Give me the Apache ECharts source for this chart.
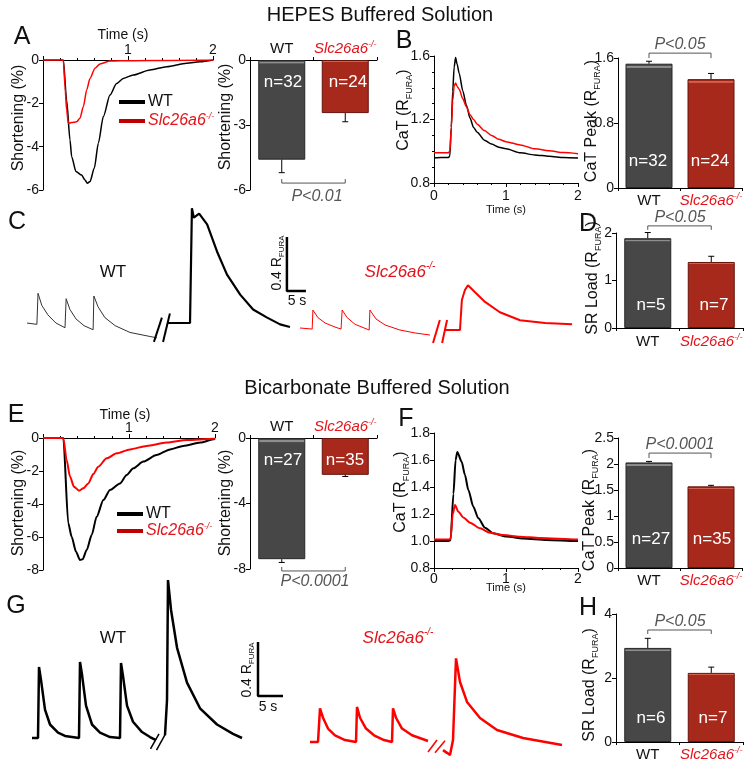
<!DOCTYPE html>
<html><head><meta charset="utf-8">
<script src="https://cdn.jsdelivr.net/npm/echarts/dist/echarts.min.js"></script>
<style>html,body{margin:0;padding:0;background:#fff}#c{width:754px;height:765px}</style>
</head><body><div id="c"></div>
<script>
// ---------------- DATA ----------------
const categories = ['WT', 'Slc26a6-/-'];

// Panel A: HEPES shortening traces (time s, shortening %)
const aWTTime  = [0,0.239,0.278,0.318,0.337,0.388,0.455,0.494,0.522,0.553,0.604,0.651,0.71,0.788,0.866,0.945,1.063,1.259,1.455,1.69,1.847,2.0];
const aWTShort = [0,0,-1.85,-3.7,-4.46,-5.15,-5.31,-5.54,-5.69,-5.61,-4.98,-3.84,-2.61,-1.62,-1.08,-0.85,-0.69,-0.46,-0.31,-0.15,-0.08,0];
const aKOTime  = [0,0.239,0.259,0.278,0.298,0.337,0.396,0.435,0.475,0.514,0.553,0.612,0.671,0.788,1.063,1.455,2.0];
const aKOShort = [0,0,-1.23,-2.31,-2.92,-2.89,-2.85,-2.69,-2.15,-1.38,-0.85,-0.38,-0.18,-0.05,-0.03,-0.02,0];
const aBarMean = [-4.6, -2.45], aBarErr = [0.6, 0.4], aN = [32, 24];

// Panel B: HEPES Ca transients (R_FURA)
const bTime = [0,0.1,0.2,0.22,0.24,0.26,0.28,0.30,0.32,0.35,0.40,0.45,0.50,0.55,0.60,0.70,0.80,0.90,1.0,1.2,1.4,1.6,1.8,2.0];
const bWT   = [0.957,0.96,0.96,0.97,1.15,1.38,1.53,1.59,1.55,1.49,1.38,1.29,1.21,1.15,1.12,1.07,1.045,1.025,1.015,0.99,0.977,0.968,0.961,0.957];
const bKO   = [0.99,0.99,0.99,1.0,1.15,1.32,1.41,1.43,1.41,1.39,1.33,1.28,1.23,1.20,1.17,1.13,1.10,1.075,1.06,1.04,1.015,1.003,0.992,0.985];
const bBarMean = [1.53, 1.34], bBarErr = [0.03, 0.07], bN = [32, 24];

// Panel C: HEPES caffeine SR load traces (time s, R_FURA)
const cWTPreT  = [0,2.6,2.9,3.9,5.5,7.6,10.0,10.3,11.3,12.9,15.0,17.4,17.6,18.7,20.5,23.2,27.1,32.4,34.2];
const cWTPreR  = [1.0,0.99,1.22,1.13,1.06,1.0,0.965,1.18,1.10,1.03,0.98,0.95,1.2,1.12,1.04,0.98,0.93,0.90,0.89];
const cWTPostT = [37.1,42.9,43.4,43.9,45.3,47.4,50.0,52.6,56.1,59.5,63.2,66.6,69.2];
const cWTPostR = [1.0,1.0,1.85,1.78,1.81,1.73,1.53,1.36,1.21,1.10,1.04,0.99,0.97];
const cKOPreT  = [0,3.2,3.4,4.7,6.6,9.2,10.8,11.1,12.4,14.5,18.2,18.4,20,22.4,26.3,30.3,34.2];
const cKOPreR  = [0.963,0.955,1.096,1.04,1.0,0.97,0.955,1.096,1.04,0.99,0.948,1.096,1.03,0.985,0.948,0.926,0.911];
const cKOPostT = [38.2,42.1,42.6,43.4,44.2,46,48.7,52.6,57.9,64.5,71.6];
const cKOPostR = [0.948,0.948,1.17,1.244,1.28,1.23,1.156,1.08,1.02,1.0,0.99];
const cScaleOrigin = [68.4, 1.237];
const cWTBreaks = [[[33.4,0.86],[35.5,1.04]], [[35.8,0.86],[37.6,1.07]]];
const cKOBreaks = [[[35.0,0.852],[36.8,1.022]], [[37.4,0.852],[38.7,1.022]]];

// Panel D: HEPES SR load bars
const dBarMean = [1.89, 1.39], dBarErr = [0.12, 0.12], dN = [5, 7];

// Panel E: bicarbonate shortening traces
const eWTTime  = [0,0.236,0.294,0.333,0.384,0.43,0.461,0.508,0.566,0.624,0.702,0.779,0.895,0.973,1.05,1.167,1.32,1.478,1.63,1.83,1.98,2.0];
const eWTShort = [0,0,-5.17,-5.98,-6.89,-7.39,-7.35,-6.79,-5.88,-4.77,-3.76,-3.15,-2.75,-2.24,-1.84,-1.43,-1.03,-0.69,-0.48,-0.28,-0.08,-0.05];
const eKOTime  = [0,0.236,0.275,0.314,0.36,0.419,0.469,0.527,0.585,0.643,0.74,0.857,1.012,1.205,1.438,1.67,1.98,2.0];
const eKOShort = [0,0,-1.33,-2.34,-2.95,-3.19,-3.05,-2.75,-2.18,-1.74,-1.23,-0.93,-0.69,-0.48,-0.28,-0.12,-0.05,-0.04];
const eBarMean = [-7.4, -2.25], eBarErr = [0.2, 0.1], eN = [27, 35];

// Panel F: bicarbonate Ca transients
const fWTTime = [0,0.2,0.23,0.27,0.3,0.324,0.384,0.43,0.477,0.546,0.616,0.708,0.824,1.009,1.24,1.565,1.98,2.0];
const fWT     = [1.0,1.0,1.005,1.35,1.6,1.66,1.587,1.489,1.378,1.254,1.168,1.099,1.057,1.033,1.018,1.008,1.0,1.0];
const fKOTime = [0,0.2,0.23,0.26,0.292,0.338,0.407,0.5,0.639,0.778,0.963,1.194,1.472,1.98,2.0];
const fKO     = [1.012,1.012,1.015,1.2,1.267,1.217,1.175,1.136,1.094,1.061,1.044,1.032,1.022,1.012,1.012];
const fBarMean = [2.03, 1.57], fBarErr = [0.02, 0.02], fN = [27, 35];

// Panel G: bicarbonate caffeine traces
const gWTPreT  = [0,1.2,1.4,1.8,2.6,3.6,5.2,6.6,9.4,9.6,10,10.8,12,13.6,15.6,17.6,17.8,18.2,19,20.2,22,23.6,24.8];
const gWTPreR  = [1.0,1.0,1.526,1.43,1.21,1.1,1.04,1.015,1.0,1.563,1.47,1.24,1.10,1.04,1.007,1.0,1.556,1.46,1.24,1.12,1.044,1.007,0.985];
const gWTPostT = [26.6,27.0,27.2,27.8,29,31,33.6,37,40.2,42];
const gWTPostR = [1.02,1.28,2.17,1.95,1.67,1.41,1.22,1.10,1.03,1.0];
const gKOPreT  = [0,1.6,2,2.6,3.6,5,7,9.2,9.4,10,11.2,12.8,14.8,16.4,16.6,17.2,18.4,20.4,23.6];
const gKOPreR  = [0.97,0.97,1.22,1.15,1.07,1.02,0.985,0.97,1.23,1.15,1.07,1.02,0.985,0.97,1.22,1.15,1.07,1.02,0.978];
const gKOPostT = [26.6,27.4,28,28.6,29.2,30,31.4,34,37.4,42.6,50.4];
const gKOPostR = [0.91,0.89,0.874,0.985,1.59,1.415,1.267,1.148,1.059,1.0,0.948];
const gScaleOrigin = [45.2, 1.311];
const gWTBreaks = [[[23.7,0.92],[25.4,1.03]], [[24.9,0.91],[26.7,1.03]]];
const gKOBreaks = [[[23.6,0.896],[25.4,0.985]], [[25.0,0.89],[27.0,0.98]]];

// Panel H: bicarbonate SR load bars
const hBarMean = [2.94, 2.16], hBarErr = [0.3, 0.18], hN = [6, 7];

// scale bar sizes (data units)
const SCALE_R = 0.4, SCALE_T = 5;
// significance
const pLabels = ['P<0.01','P<0.05','P<0.05','P<0.0001','P<0.0001','P<0.05'];
const bracketLevels = [-5.68, 1.66, 2.15, -8.12, 2.21, 3.5];

// ---------------- RENDER ----------------
const FONT = '"Liberation Sans", Arial, Helvetica, sans-serif';
const LRED = '#e3141b';
const TRED = '#ff0000';
const zip = (a, b) => a.map((v, i) => [v, b[i]]);

const grids = [
  {left:43, top:60, width:170, height:130},   //0 A
  {left:250, top:60, width:127, height:130},  //1 A bar
  {left:434, top:56, width:144, height:127},  //2 B
  {left:618, top:58, width:124, height:130},  //3 B bar
  {left:27, top:188, width:304, height:162},  //4 C WT
  {left:300, top:188, width:304, height:162}, //5 C KO
  {left:616, top:233, width:127, height:95},  //6 D
  {left:43, top:438, width:172, height:132},  //7 E
  {left:250, top:438, width:127, height:131}, //8 E bar
  {left:434, top:433, width:144, height:135}, //9 F
  {left:618, top:438, width:124, height:130}, //10 F bar
  {left:32, top:549, width:300, height:216},  //11 G WT
  {left:310, top:549, width:300, height:216}, //12 G KO
  {left:616, top:614, width:127, height:128}  //13 H
];

const lineAx = {show:true, onZero:false, lineStyle:{color:'#000', width:1}};
const tickAx = {show:true, length:4, lineStyle:{color:'#000', width:1}};
function lab(extra){ return Object.assign({fontSize:14, color:'#111', fontFamily:FONT, margin:4}, extra||{}); }
function vAxis(gi, min, max, interval, extra){
  return Object.assign({gridIndex:gi, type:'value', min, max, interval, axisLine:lineAx, axisTick:tickAx,
    axisLabel:lab(), splitLine:{show:false}}, extra||{});
}
function hidden(gi, min, max){ return {gridIndex:gi, type:'value', min, max, show:false, splitLine:{show:false}}; }
const catRich = {
  w:{fontSize:15, color:'#111', fontFamily:FONT, lineHeight:18},
  k:{fontSize:15, color:LRED, fontStyle:'italic', fontFamily:FONT, lineHeight:18},
  s:{fontSize:9, color:LRED, fontStyle:'italic', fontFamily:FONT, lineHeight:9, verticalAlign:'top'}
};
const catFmt = v => v === 'WT' ? '{w|WT}' : '{k|Slc26a6}{s|-/-}';
function cAxis(gi, pos, margin){
  return {gridIndex:gi, type:'category', data:categories, position:pos, axisLine:lineAx,
    axisTick:{show:true, length:3, alignWithLabel:false, lineStyle:{color:'#000'}},
    axisLabel:{formatter:catFmt, rich:catRich, margin:margin, interval:0}, splitLine:{show:false}};
}

const xAxes = [
  vAxis(0, 0, 2, 1, {position:'top', axisLabel:lab({margin:3, formatter:v=> v===0?'':v}), minorTick:{show:true, splitNumber:5, length:2}}),
  cAxis(1, 'top', 2),
  vAxis(2, 0, 2, 1, {position:'bottom', axisLabel:lab({margin:6}), minorTick:{show:true, splitNumber:5, length:2}}),
  cAxis(3, 'bottom', 4),
  hidden(4, 0, 80), hidden(5, 0, 80),
  cAxis(6, 'bottom', 5),
  vAxis(7, 0, 2, 1, {position:'top', axisLabel:lab({margin:3, formatter:v=> v===0?'':v}), minorTick:{show:true, splitNumber:5, length:2}}),
  cAxis(8, 'top', 2),
  vAxis(9, 0, 2, 1, {position:'bottom', axisLabel:lab({margin:4}), minorTick:{show:true, splitNumber:4, length:2}}),
  cAxis(10, 'bottom', 4),
  hidden(11, 0, 60), hidden(12, 0, 60),
  cAxis(13, 'bottom', 4)
];
const yAxes = [
  vAxis(0, -6, 0, 2),
  vAxis(1, -6, 0, 3),
  vAxis(2, 0.8, 1.6, 0.4, {minorTick:{show:true, splitNumber:4, length:2}}),
  vAxis(3, 0, 1.6, 0.8),
  hidden(4, 0.8, 2.0), hidden(5, 0.8, 2.0),
  vAxis(6, 0, 2, 1),
  vAxis(7, -8, 0, 2),
  vAxis(8, -8, 0, 4),
  vAxis(9, 0.8, 1.8, 0.2, {axisLabel:lab({formatter:v=>v.toFixed(1)})}),
  vAxis(10, 0, 2.5, 0.5),
  hidden(11, 0.8, 2.4), hidden(12, 0.8, 2.4),
  vAxis(13, 0, 4, 2)
];

function trace(gi, name, data, color, width, smooth){
  return {type:'line', name:name, xAxisIndex:gi, yAxisIndex:gi, data:data, symbol:'none', showSymbol:false,
    smooth: smooth ? 0.25 : false, smoothMonotone: smooth ? 'x' : undefined,
    lineStyle:{color:color, width:width}, itemStyle:{color:color}, silent:true, z:3};
}
function seg(gi, pts, color, width){
  return {type:'line', xAxisIndex:gi, yAxisIndex:gi, data:pts, symbol:'none', showSymbol:false,
    lineStyle:{color:color, width:width}, silent:true, z:4};
}
function grad(dark, light){
  return new echarts.graphic.LinearGradient(0,0,0,1,[
    {offset:0,color:dark},{offset:0.014,color:dark},{offset:0.02,color:light},
    {offset:0.03,color:light},{offset:0.038,color:dark},{offset:1,color:dark}]);
}
const barStyles = [
  {color:grad('#474747','#8e8e8e'), borderColor:'#262626', borderWidth:1},
  {color:grad('#a6291c','#d2604f'), borderColor:'#66130c', borderWidth:1}
];
function bars(gi, means){
  return {type:'bar', xAxisIndex:gi, yAxisIndex:gi, barWidth:47, silent:true, z:2,
    data: means.map((v,i)=>({value:v, itemStyle:barStyles[i]}))};
}
function errRender(params, api){
  const c = api.value(0), v = api.value(1), e = api.value(2);
  const end = v < 0 ? v - e : v + e;
  const p1 = api.coord([c, v]), p2 = api.coord([c, end]);
  return {type:'group', children:[
    {type:'line', shape:{x1:p1[0],y1:p1[1],x2:p2[0],y2:p2[1]}, style:{stroke:'#000', lineWidth:1}},
    {type:'line', shape:{x1:p2[0]-3,y1:p2[1],x2:p2[0]+3,y2:p2[1]}, style:{stroke:'#000', lineWidth:1}}
  ]};
}
function errs(gi, means, errsArr){
  return {type:'custom', xAxisIndex:gi, yAxisIndex:gi, renderItem:errRender, silent:true, z:5,
    data: means.map((v,i)=>[i, v, errsArr[i]])};
}
function bracketRender(params, api){
  const y = api.value(2), tick = api.value(3);
  const a = api.coord([api.value(0), y]), b = api.coord([1, y]);
  return {type:'polyline', shape:{points:[[a[0],a[1]+tick],[a[0],a[1]],[b[0],b[1]],[b[0],b[1]+tick]]},
    style:{stroke:'#555', lineWidth:1, fill:null}};
}
function bracket(gi, level, tick){
  return {type:'custom', xAxisIndex:gi, yAxisIndex:gi, renderItem:bracketRender, silent:true, z:5,
    data:[[0, 1, level, tick]]};
}
function scaleBar(gi, o){
  return seg(gi, [[o[0], o[1]+SCALE_R],[o[0], o[1]],[o[0]+SCALE_T, o[1]]], '#000', 2.5);
}

const series = [
  trace(0, 'WT', zip(aWTTime, aWTShort), '#000', 1.5, true),
  trace(0, 'Slc26a6-/-', zip(aKOTime, aKOShort), TRED, 1.5, true),
  bars(1, aBarMean), errs(1, aBarMean, aBarErr), bracket(1, bracketLevels[0], -4),
  trace(2, 'WT', zip(bTime, bWT), '#000', 1.5, true),
  trace(2, 'Slc26a6-/-', zip(bTime, bKO), TRED, 1.5, true),
  bars(3, bBarMean), errs(3, bBarMean, bBarErr), bracket(3, bracketLevels[1], 5),
  trace(4, 'WT', zip(cWTPreT, cWTPreR), '#333', 1, false),
  trace(4, 'WT', zip(cWTPostT, cWTPostR), '#000', 2.2, false),
  trace(5, 'Slc26a6-/-', zip(cKOPreT, cKOPreR), TRED, 1, false),
  trace(5, 'Slc26a6-/-', zip(cKOPostT, cKOPostR), TRED, 2, false),
  ...cWTBreaks.map(s => seg(4, s, '#000', 2)),
  ...cKOBreaks.map(s => seg(5, s, TRED, 2)),
  scaleBar(4, cScaleOrigin),
  bars(6, dBarMean), errs(6, dBarMean, dBarErr), bracket(6, bracketLevels[2], 4),
  trace(7, 'WT', zip(eWTTime, eWTShort), '#000', 2, true),
  trace(7, 'Slc26a6-/-', zip(eKOTime, eKOShort), TRED, 2, true),
  bars(8, eBarMean), errs(8, eBarMean, eBarErr), bracket(8, bracketLevels[3], -4),
  trace(9, 'WT', zip(fWTTime, fWT), '#000', 2, true),
  trace(9, 'Slc26a6-/-', zip(fKOTime, fKO), TRED, 2, true),
  bars(10, fBarMean), errs(10, fBarMean, fBarErr), bracket(10, bracketLevels[4], 5),
  trace(11, 'WT', zip(gWTPreT, gWTPreR), '#000', 2.5, false),
  trace(11, 'WT', zip(gWTPostT, gWTPostR), '#000', 2.5, false),
  trace(12, 'Slc26a6-/-', zip(gKOPreT, gKOPreR), TRED, 2.5, false),
  trace(12, 'Slc26a6-/-', zip(gKOPostT, gKOPostR), TRED, 2.5, false),
  ...gWTBreaks.map(s => seg(11, s, '#000', 1.5)),
  ...gKOBreaks.map(s => seg(12, s, TRED, 1.5)),
  scaleBar(11, gScaleOrigin),
  bars(13, hBarMean), errs(13, hBarMean, hBarErr), bracket(13, bracketLevels[5], 4)
];

// ---- text (graphic) ----
function T(x, y, text, size, o){
  o = o || {};
  return {type:'text', x:x, y:y, rotation:o.rot||0, z:100, silent:true,
    style:{text:text, fontSize:size, fontFamily:FONT, fill:o.color||'#111', fontStyle:o.italic?'italic':'normal',
      align:'center', verticalAlign:'middle', rich:o.rich}};
}
function richSub(size, subSize){
  return {n:{fontSize:size, lineHeight:size+4, fill:'#111', fontFamily:FONT},
          b:{fontSize:subSize, lineHeight:subSize, verticalAlign:'bottom', fill:'#111', fontFamily:FONT}};
}
function richKO(size, supSize){
  return {k:{fontSize:size, lineHeight:size+4, fill:LRED, fontStyle:'italic', fontFamily:FONT},
          s:{fontSize:supSize, lineHeight:supSize, verticalAlign:'top', fill:LRED, fontStyle:'italic', fontFamily:FONT}};
}
const R90 = Math.PI/2;
const RF = '{n|CaT (R}{b|FURA}{n|)}';
const RP = '{n|CaT Peak (R}{b|FURA}{n|)}';
const RS = '{n|SR Load (R}{b|FURA}{n|)}';
const RSc = '{n|0.4 R}{b|FURA}';
const KO = '{k|Slc26a6}{s|-/-}';
const barN = [[aN,[283,348],82],[bN,[648,710],161],[dN,[651,714],305],[eN,[283,345],460],[fN,[651,712],539],[hN,[651,713],718]];
const pPos = [[317,197],[680,45],[680,218],[315,582],[680,445],[680,622]];

const graphics = [
  T(380, 15, 'HEPES Buffered Solution', 20),
  T(377, 388, 'Bicarbonate Buffered Solution', 20),
  T(22, 37, 'A', 25), T(404, 41, 'B', 25), T(17, 222, 'C', 25), T(588, 224, 'D', 25),
  T(16, 415, 'E', 25), T(406, 419, 'F', 25), T(16, 606, 'G', 25), T(588, 608, 'H', 25),
  T(123, 35, 'Time (s)', 14), T(125, 415, 'Time (s)', 14),
  T(506, 210, 'Time (s)', 11), T(506, 588, 'Time (s)', 11),
  T(19, 118, 'Shortening (%)', 16, {rot:R90}),
  T(226, 117, 'Shortening (%)', 16, {rot:R90}),
  T(19, 503, 'Shortening (%)', 16, {rot:R90}),
  T(226, 503, 'Shortening (%)', 16, {rot:R90}),
  T(404, 110, RF, 16, {rot:R90, rich:richSub(16, 9)}),
  T(401, 492, RF, 16, {rot:R90, rich:richSub(16, 9)}),
  T(592, 121, RP, 16, {rot:R90, rich:richSub(16, 9)}),
  T(590, 510, RP, 16, {rot:R90, rich:richSub(16, 9)}),
  T(593, 278, RS, 16, {rot:R90, rich:richSub(16, 9)}),
  T(590, 685, RS, 16, {rot:R90, rich:richSub(16, 9)}),
  T(277, 263, RSc, 14, {rot:R90, rich:richSub(14, 8)}),
  T(297, 301, '5 s', 14),
  T(247, 670, RSc, 14, {rot:R90, rich:richSub(14, 8)}),
  T(268, 707, '5 s', 14),
  T(113, 272, 'WT', 17), T(400, 272, KO, 17, {rich:richKO(17, 10)}),
  T(113, 638, 'WT', 17), T(398, 638, KO, 17, {rich:richKO(17, 10)})
];
barN.forEach(([ns, xs, y]) => ns.forEach((n, i) => graphics.push(T(xs[i], y, 'n=' + n, 17, {color:'#fff'}))));
pLabels.forEach((p, i) => graphics.push(T(pPos[i][0], pPos[i][1], p, 16, {italic:true, color:'#555'})));

const legendRich = {
  w:{fontSize:16, color:'#111', fontFamily:FONT, lineHeight:18},
  k:{fontSize:16, color:LRED, fontStyle:'italic', fontFamily:FONT, lineHeight:18},
  s:{fontSize:9, color:LRED, fontStyle:'italic', fontFamily:FONT, lineHeight:9, verticalAlign:'top'}
};
function legend(left, top, gap){
  return {left:left, top:top, orient:'vertical', itemWidth:26, itemHeight:4, itemGap:gap, icon:'rect',
    selectedMode:false, padding:0, formatter:catFmt, textStyle:{rich:legendRich, padding:[0,0,0,-2]},
    data:[{name:'WT', itemStyle:{color:'#000'}}, {name:'Slc26a6-/-', itemStyle:{color:'#c00000'}}]};
}

const chart = echarts.init(document.getElementById('c'), null, {renderer:'canvas', width:754, height:765});
chart.setOption({
  animation:false,
  backgroundColor:'#fff',
  textStyle:{fontFamily:FONT},
  grid:grids,
  xAxis:xAxes,
  yAxis:yAxes,
  legend:[legend(119, 94, 2), legend(117, 506, 0)],
  series:series,
  graphic:graphics
});
</script></body></html>
